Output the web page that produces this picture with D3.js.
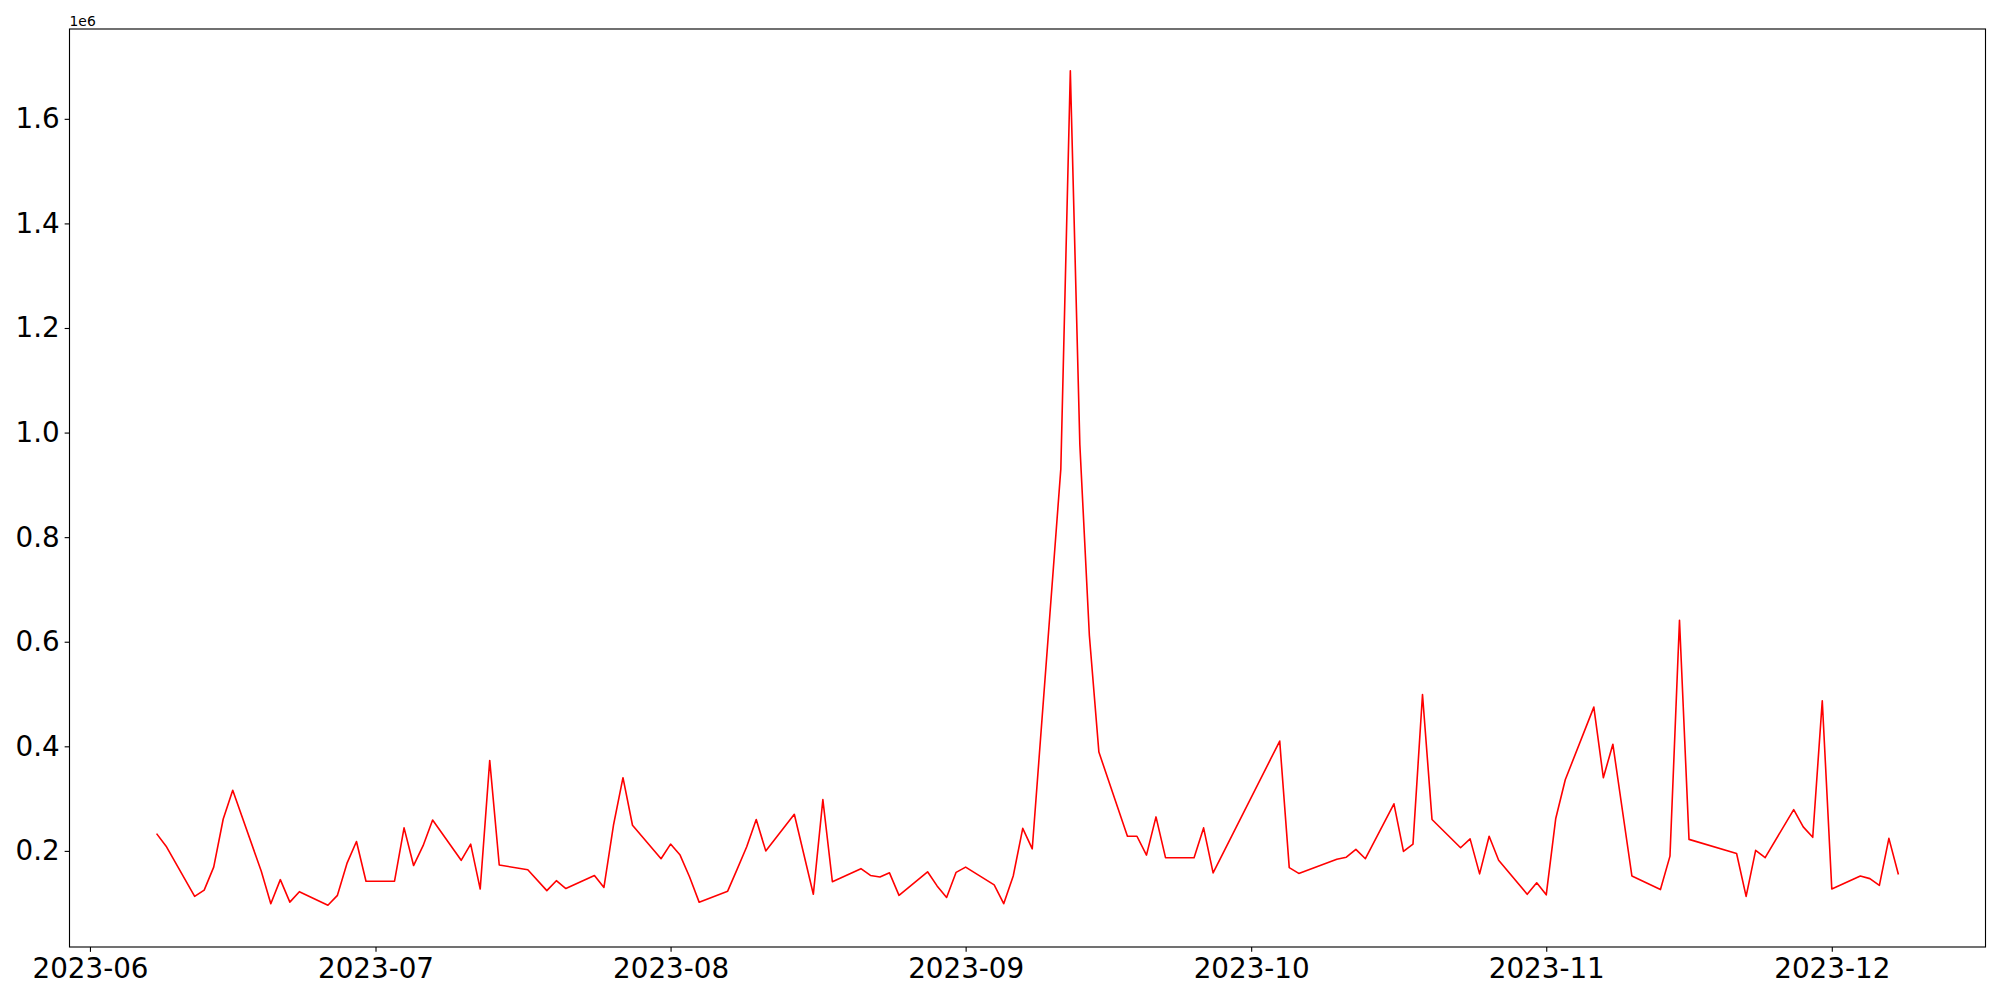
<!DOCTYPE html>
<html>
<head>
<meta charset="utf-8">
<script src="https://cdn.jsdelivr.net/npm/d3@7"></script>
<style>
  html, body { margin: 0; padding: 0; background: #fff; }
  svg { display: block; font-family: "DejaVu Sans", sans-serif; }
</style>
</head>
<body>
<svg id="chart" width="2000" height="1000"></svg>
<script>
const dates = [
  "2023-06-08","2023-06-09","2023-06-12","2023-06-13","2023-06-14","2023-06-15","2023-06-16",
  "2023-06-19","2023-06-20","2023-06-21","2023-06-22","2023-06-23","2023-06-26","2023-06-27",
  "2023-06-28","2023-06-29","2023-06-30","2023-07-03","2023-07-04","2023-07-05","2023-07-06",
  "2023-07-07","2023-07-10","2023-07-11","2023-07-12","2023-07-13","2023-07-14","2023-07-17",
  "2023-07-19","2023-07-20","2023-07-21","2023-07-24","2023-07-25","2023-07-26","2023-07-27",
  "2023-07-28","2023-07-31","2023-08-01","2023-08-02","2023-08-03","2023-08-04","2023-08-07",
  "2023-08-08","2023-08-09","2023-08-10","2023-08-11","2023-08-14","2023-08-16","2023-08-17",
  "2023-08-18","2023-08-21","2023-08-22","2023-08-23","2023-08-24","2023-08-25","2023-08-28",
  "2023-08-29","2023-08-30","2023-08-31","2023-09-01","2023-09-04","2023-09-05","2023-09-06",
  "2023-09-07","2023-09-08","2023-09-11","2023-09-12","2023-09-13","2023-09-14","2023-09-15",
  "2023-09-18","2023-09-19","2023-09-20","2023-09-21","2023-09-22","2023-09-25","2023-09-26",
  "2023-09-27","2023-10-04","2023-10-05","2023-10-06","2023-10-10","2023-10-11","2023-10-12",
  "2023-10-13","2023-10-16","2023-10-17","2023-10-18","2023-10-19","2023-10-20","2023-10-23",
  "2023-10-24","2023-10-25","2023-10-26","2023-10-27","2023-10-30","2023-10-31","2023-11-01",
  "2023-11-02","2023-11-03","2023-11-06","2023-11-07","2023-11-08","2023-11-10","2023-11-13",
  "2023-11-14","2023-11-15","2023-11-16","2023-11-21","2023-11-22","2023-11-23","2023-11-24",
  "2023-11-27","2023-11-28","2023-11-29","2023-11-30","2023-12-01","2023-12-04","2023-12-05",
  "2023-12-06","2023-12-07","2023-12-08"
];
const values = [
  233000,209000,113000,125000,169000,261000,316000,
  161000,99000,145000,102000,122000,96000,115000,
  176000,218000,142000,142000,244000,172000,210000,
  259000,182000,213000,127000,373000,173000,164000,
  124000,143000,128000,153000,130000,249000,340000,
  249000,185000,213000,192000,150000,102000,123000,
  165000,208000,260000,200000,270000,117000,298000,
  141000,166000,153000,150000,158000,115000,160000,
  133000,111000,159000,169000,135000,99000,152000,
  243000,204000,930000,1692000,977000,612000,389000,
  228000,228000,192000,265000,187000,187000,244000,
  158000,410000,168000,157000,184000,188000,203000,
  185000,290000,199000,213000,499000,260000,206000,
  223000,156000,228000,182000,117000,139000,116000,
  262000,336000,475000,340000,404000,152000,126000,
  190000,641000,222000,195000,113000,201000,187000,
  279000,246000,226000,487000,127000,152000,147000,
  134000,224000,155000
];
const yTicks = [200000,400000,600000,800000,1000000,1200000,1400000,1600000];
const xTicks = ["2023-06-01","2023-07-01","2023-08-01","2023-09-01","2023-10-01","2023-11-01","2023-12-01"];

(function () {
  const parse = d3.utcParse("%Y-%m-%d");
  const data = dates.map((d, i) => ({ date: parse(d), value: values[i] }));

  const mLeft = 69.5, mRight = 1985.5, mTop = 29, mBottom = 947;
  const svg = d3.select("#chart");

  const [x0, x1] = d3.extent(data, d => +d.date);
  const xPad = (x1 - x0) * 0.05;
  const x = d3.scaleUtc().domain([new Date(x0 - xPad), new Date(x1 + xPad)]).range([mLeft, mRight]);

  const [y0, y1] = d3.extent(values);
  const yPad = (y1 - y0) * 0.05;
  const y = d3.scaleLinear().domain([y0 - yPad, y1 + yPad]).range([mBottom, mTop]);

  const fontSize = 27.78;

  const line = d3.line().x(d => x(d.date)).y(d => y(d.value));
  svg.append("path")
    .datum(data)
    .attr("fill", "none")
    .attr("stroke", "#ff0000")
    .attr("stroke-width", 1.6)
    .attr("stroke-linejoin", "round")
    .attr("d", line);

  const xAxis = d3.axisBottom(x)
    .tickValues(xTicks.map(parse))
    .tickFormat(d3.utcFormat("%Y-%m"))
    .tickSize(4.86)
    .tickPadding(6.5);
  const gx = svg.append("g").attr("transform", `translate(0,${mBottom})`).call(xAxis);
  gx.select(".domain").remove();
  gx.selectAll(".tick line").attr("stroke", "#000").attr("stroke-width", 1.11);
  gx.selectAll(".tick text").attr("font-size", fontSize).attr("font-family", "DejaVu Sans").attr("fill", "#000");

  const yAxis = d3.axisLeft(y)
    .tickValues(yTicks)
    .tickFormat(d => (d / 1e6).toFixed(1))
    .tickSize(4.86)
    .tickPadding(4.86);
  const gy = svg.append("g").attr("transform", `translate(${mLeft},0)`).call(yAxis);
  gy.select(".domain").remove();
  gy.selectAll(".tick line").attr("stroke", "#000").attr("stroke-width", 1.11);
  gy.selectAll(".tick text").attr("font-size", fontSize).attr("font-family", "DejaVu Sans").attr("fill", "#000");

  svg.append("rect")
    .attr("x", mLeft).attr("y", mTop)
    .attr("width", mRight - mLeft).attr("height", mBottom - mTop)
    .attr("fill", "none").attr("stroke", "#000").attr("stroke-width", 1.11);

  svg.append("text")
    .attr("x", mLeft).attr("y", mTop - 3)
    .attr("font-size", 13.9)
    .attr("font-family", "DejaVu Sans")
    .attr("fill", "#000")
    .text("1e6");
})();
</script>
</body>
</html>
